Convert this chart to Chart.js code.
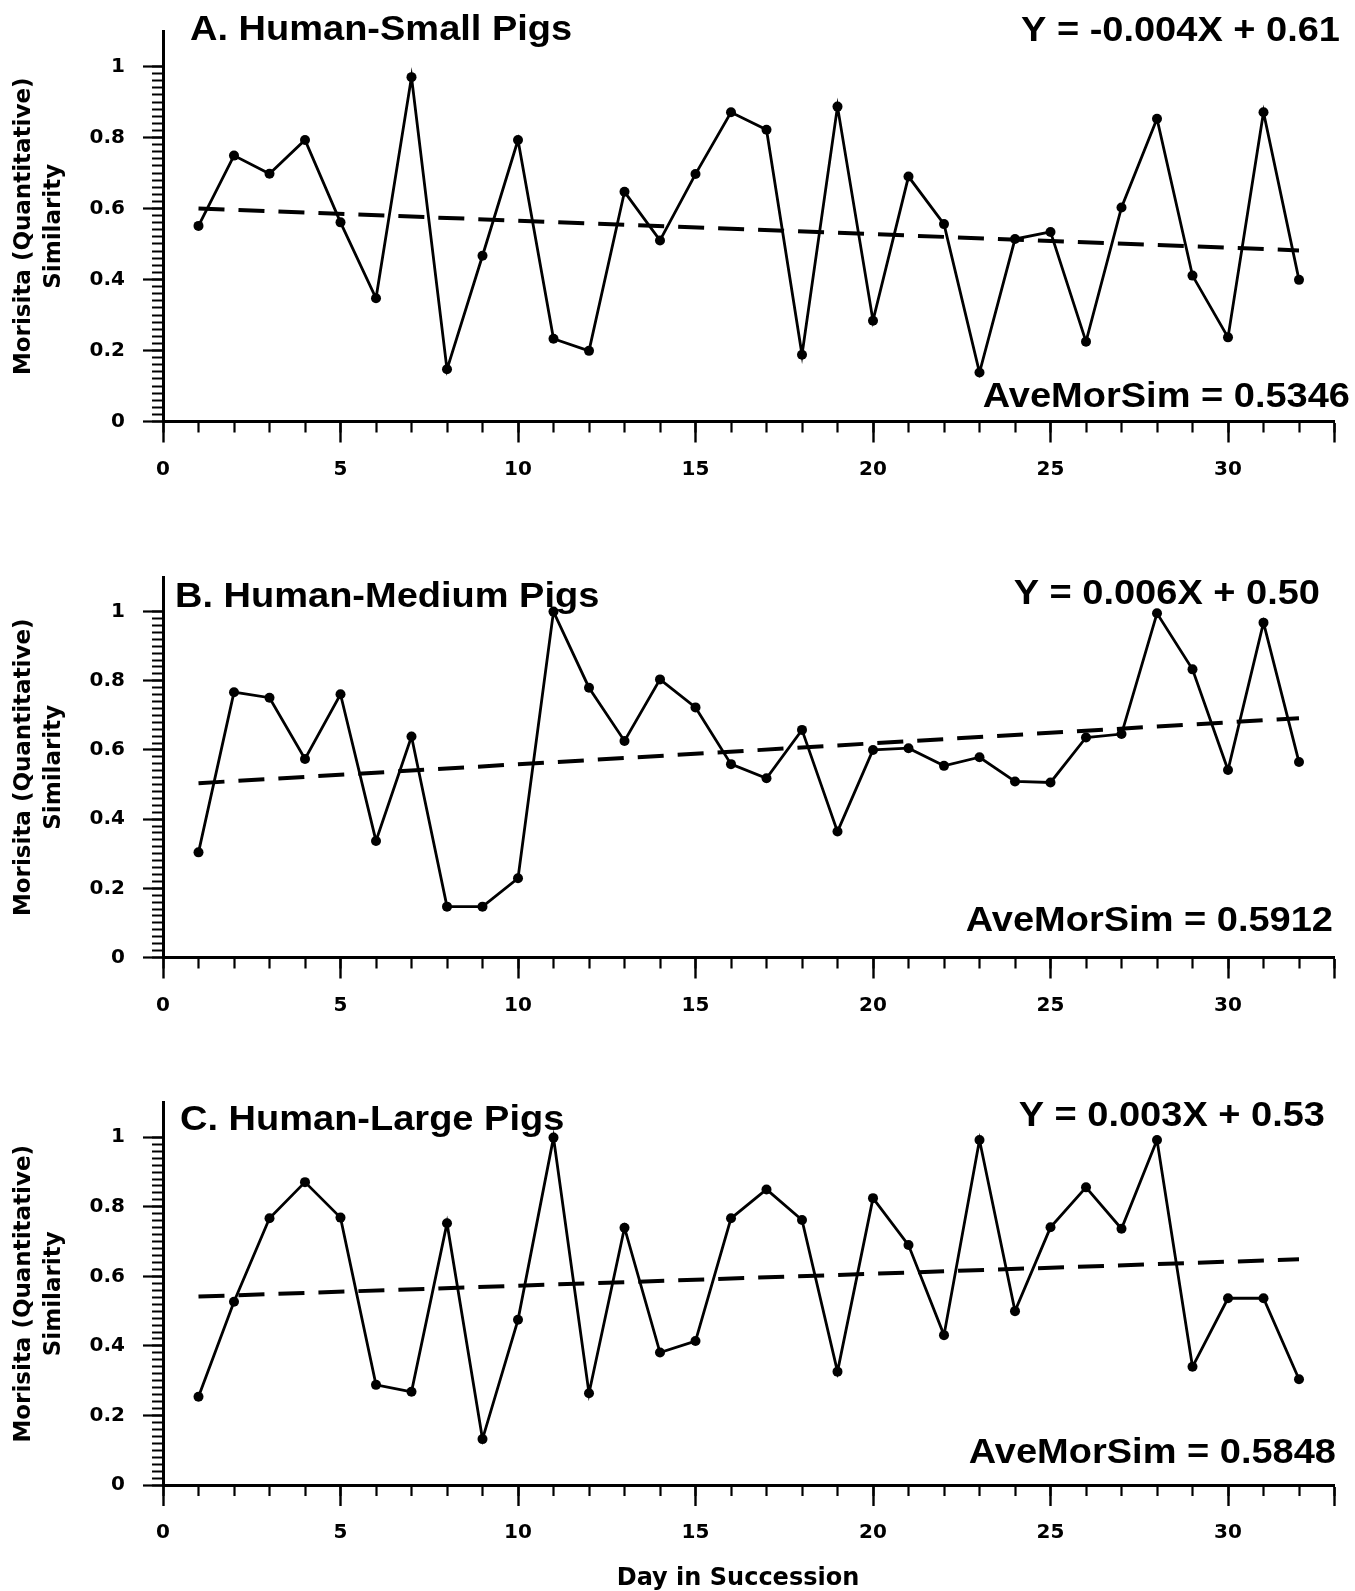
<!DOCTYPE html>
<html>
<head>
<meta charset="utf-8">
<script src="https://cdn.jsdelivr.net/npm/chart.js@4.4.1/dist/chart.umd.min.js"></script>
<style>
html,body{margin:0;padding:0;background:#fff;width:1355px;height:1591px;overflow:hidden;position:relative}
canvas{position:absolute;left:0}
</style>
</head>
<body>
<canvas id="cA" width="1355" height="500" style="top:0px"></canvas>
<canvas id="cB" width="1355" height="500" style="top:520px"></canvas>
<canvas id="cC" width="1355" height="551" style="top:1040px"></canvas>
<script>
// ---------------- data ----------------
const days = [1,2,3,4,5,6,7,8,9,10,11,12,13,14,15,16,17,18,19,20,21,22,23,24,25,26,27,28,29,30,31,32];
const simSmall  = [0.551,0.749,0.698,0.793,0.561,0.347,0.970,0.147,0.467,0.793,0.233,0.199,0.647,0.510,0.697,0.871,0.822,0.188,0.887,0.284,0.690,0.556,0.138,0.514,0.534,0.225,0.603,0.853,0.411,0.237,0.871,0.399];
const simMedium = [0.304,0.767,0.751,0.574,0.761,0.337,0.639,0.147,0.147,0.229,1.000,0.780,0.626,0.804,0.723,0.559,0.518,0.658,0.364,0.600,0.605,0.554,0.579,0.509,0.506,0.636,0.646,0.995,0.833,0.542,0.968,0.565];
const simLarge  = [0.254,0.527,0.767,0.871,0.769,0.288,0.268,0.753,0.132,0.475,0.999,0.264,0.740,0.381,0.414,0.767,0.850,0.762,0.326,0.825,0.690,0.431,0.992,0.500,0.741,0.856,0.737,0.992,0.340,0.537,0.537,0.304];
const trendDays   = [1, 32];
const trendSmall  = [0.600, 0.482];
const trendMedium = [0.504, 0.692];
const trendLarge  = [0.542, 0.649];
const panelTitles = ['A. Human-Small Pigs', 'B. Human-Medium Pigs', 'C. Human-Large Pigs'];
const equations   = ['Y = -0.004X + 0.61', 'Y = 0.006X + 0.50', 'Y = 0.003X + 0.53'];
const averages    = ['AveMorSim = 0.5346', 'AveMorSim = 0.5912', 'AveMorSim = 0.5848'];
const yTickLabels = ['0', '0.2', '0.4', '0.6', '0.8', '1'];
const xTickLabels = ['0', '5', '10', '15', '20', '25', '30'];
const yAxisTitle  = ['Morisita (Quantitative)', 'Similarity'];
const xAxisTitle  = 'Day in Succession';

// ---------------- layout ----------------
const panels = [
  {canvas:'cA', series:simSmall,  trend:trendSmall,  padTop:31,   xAxisH:78.5, titlePos:[190,40], eqPos:[1340,41], avePos:[1350,407], xTitlePos:null},
  {canvas:'cB', series:simMedium, trend:trendMedium, padTop:57,   xAxisH:62.5, titlePos:[175,87], eqPos:[1320,84], avePos:[1333,411], xTitlePos:null},
  {canvas:'cC', series:simLarge,  trend:trendLarge,  padTop:62.5, xAxisH:106,  titlePos:[180,90], eqPos:[1325,86], avePos:[1336,423], xTitlePos:[738,545]}
];

const tickFont = {family:'DejaVu Sans', weight:'bold', size:20};
const annotFont = 'bold 38px "Liberation Sans", Arial, sans-serif';
const xTitleFont = 'bold 24px "DejaVu Sans", sans-serif';

function drawText(ctx, s, x, y, align, sy){
  ctx.save();
  ctx.translate(x, y);
  ctx.scale(1, sy);
  ctx.textAlign = align;
  ctx.textBaseline = 'alphabetic';
  ctx.fillText(s, 0, 0);
  ctx.restore();
}

const annotPlugin = {
  id: 'annot',
  afterDraw(chart, args, opts){
    const ctx = chart.ctx;
    ctx.save();
    ctx.fillStyle = '#000';
    ctx.font = annotFont;
    drawText(ctx, opts.title, opts.titlePos[0], opts.titlePos[1], 'left', 0.9);
    drawText(ctx, opts.eq, opts.eqPos[0], opts.eqPos[1], 'right', 0.9);
    drawText(ctx, opts.ave, opts.avePos[0], opts.avePos[1], 'right', 0.9);
    if (opts.xTitlePos) {
      ctx.font = xTitleFont;
      drawText(ctx, xAxisTitle, opts.xTitlePos[0], opts.xTitlePos[1], 'center', 1);
    }
    ctx.restore();
  }
};

const tickCol = (c) => (c.tick && c.tick.value > 1.0001 ? 'rgba(0,0,0,0)' : '#000');

panels.forEach((p, i) => {
  new Chart(document.getElementById(p.canvas), {
    type: 'line',
    data: {
      datasets: [
        {
          data: days.map((d, k) => ({x: d, y: p.series[k]})),
          borderColor: '#000', backgroundColor: '#000', borderWidth: 2.8,
          pointRadius: 5, pointBackgroundColor: '#000', pointBorderColor: '#000', pointBorderWidth: 0,
          tension: 0, xAxisID: 'x', yAxisID: 'y'
        },
        {
          data: trendDays.map((d, k) => ({x: d, y: p.trend[k]})),
          borderColor: '#000', borderWidth: 4, borderDash: [26, 14],
          pointRadius: 0, tension: 0, xAxisID: 'x', yAxisID: 'y'
        }
      ]
    },
    options: {
      responsive: false,
      animation: false,
      devicePixelRatio: 1,
      layout: {padding: {left: 0, right: 20.5, top: p.padTop, bottom: 0}},
      plugins: {
        legend: {display: false},
        tooltip: {enabled: false},
        annot: {title: panelTitles[i], eq: equations[i], ave: averages[i],
                titlePos: p.titlePos, eqPos: p.eqPos, avePos: p.avePos, xTitlePos: p.xTitlePos}
      },
      scales: {
        x: {
          type: 'linear', position: 'bottom', weight: 1, min: 0, max: 33,
          afterFit: (s) => { s.height = p.xAxisH; },
          ticks: {stepSize: 5, autoSkip: false, maxRotation: 0, padding: 15, color: '#000', font: tickFont,
                  callback: (v) => (v % 5 === 0 ? xTickLabels[v / 5] : '')},
          grid: {drawOnChartArea: false, drawTicks: true, tickLength: 21, tickWidth: 2.4, tickColor: '#000', color: '#000'},
          border: {display: true, color: '#000', width: 3}
        },
        x2: {
          type: 'linear', position: 'bottom', weight: 0, min: 0, max: 33,
          afterFit: (s) => { s.height = 0; },
          ticks: {stepSize: 1, autoSkip: false, maxRotation: 0, padding: 0, callback: () => ''},
          grid: {drawOnChartArea: false, drawTicks: true, tickLength: 11, tickWidth: 2.2, tickColor: '#000', color: '#000'},
          border: {display: true, color: '#000', width: 3}
        },
        y: {
          type: 'linear', position: 'left', weight: 1, min: 0, max: 1.1,
          afterFit: (s) => { s.width = 163; },
          ticks: {stepSize: 0.2, autoSkip: false, padding: 18, color: '#000', font: tickFont,
                  callback: (v) => (v <= 1.0001 ? yTickLabels[Math.round(v / 0.2)] : '')},
          grid: {drawOnChartArea: false, drawTicks: true, tickLength: 20, tickWidth: 2.2, tickColor: tickCol, color: '#000'},
          border: {display: true, color: '#000', width: 3},
          title: {display: true, text: yAxisTitle, color: '#000',
                  font: {family: 'DejaVu Sans', weight: 'bold', size: 23, lineHeight: 1.3}, padding: {top: 9, bottom: 0}}
        },
        y2: {
          type: 'linear', position: 'left', weight: 0, min: 0, max: 1.1,
          afterFit: (s) => { s.width = 0; },
          ticks: {stepSize: 0.02, autoSkip: false, padding: 0, callback: () => ''},
          grid: {drawOnChartArea: false, drawTicks: true, tickLength: 11, tickWidth: 2, tickColor: tickCol, color: '#000'},
          border: {display: true, color: '#000', width: 3}
        }
      }
    },
    plugins: [annotPlugin]
  });
});
</script>
</body>
</html>
